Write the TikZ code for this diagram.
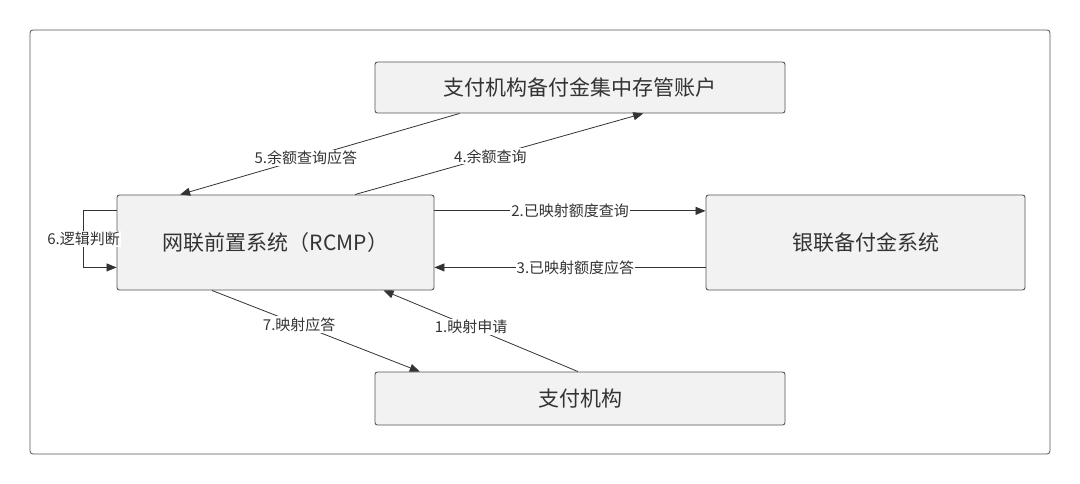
\documentclass[tikz,border=0pt]{standalone}
\usepackage{fontspec}
\usepackage{tikz}
\usetikzlibrary{arrows.meta,calc}
\newfontfamily\cjk{Noto Sans CJK SC}
\definecolor{boxgray}{HTML}{F2F2F2}
\definecolor{linegray}{HTML}{555555}
\definecolor{textgray}{HTML}{333333}

\begin{document}
\begin{tikzpicture}[x=1pt,y=-1pt,
  sysbox/.style={draw=linegray,fill=boxgray,rounded corners=2.5pt,line width=0.9pt,
    font=\cjk\fontsize{21}{25}\selectfont,text=textgray,inner sep=0pt},
  msg/.style={-{Triangle[length=10pt,width=8pt]},draw=textgray,line width=0.8pt},
  lbl/.style={fill=white,inner sep=1pt,font=\cjk\fontsize{15}{17}\selectfont,text=textgray}]
  \useasboundingbox (0,0) rectangle (1080,484);
  \draw[linegray,rounded corners=3pt,line width=0.8pt] (30,30) rectangle (1050,454);
  \node[sysbox,minimum width=410pt,minimum height=51pt] (acct) at (580,87.5) {支付机构备付金集中存管账户};
  \node[sysbox,minimum width=317pt,minimum height=95pt] (rcmp) at (275.5,242.5) {网联前置系统（RCMP）};
  \node[sysbox,minimum width=319pt,minimum height=95pt] (upsys) at (865.5,242.5) {银联备付金系统};
  \node[sysbox,minimum width=410pt,minimum height=53pt] (payorg) at (580,398.5) {支付机构};
  \coordinate (loopout) at ($(rcmp.north west)!0.17!(rcmp.south west)$);
  \coordinate (loopin) at ($(rcmp.north west)!0.76!(rcmp.south west)$);
  \draw[msg] ($(payorg.north west)!0.495!(payorg.north east)$) -- node[lbl,pos=0.55]{1.映射申请} ($(rcmp.south west)!0.84!(rcmp.south east)$);
  \draw[msg] ($(rcmp.north east)!0.17!(rcmp.south east)$) -- node[lbl,pos=0.5]{2.已映射额度查询} ($(upsys.north west)!0.17!(upsys.south west)$);
  \draw[msg] ($(upsys.north west)!0.76!(upsys.south west)$) -- node[lbl,pos=0.48]{3.已映射额度应答} ($(rcmp.north east)!0.76!(rcmp.south east)$);
  \draw[msg] ($(rcmp.north west)!0.75!(rcmp.north east)$) -- node[lbl,pos=0.47]{4.余额查询} ($(acct.south west)!0.654!(acct.south east)$);
  \draw[msg] ($(acct.south west)!0.207!(acct.south east)$) -- node[lbl,pos=0.55]{5.余额查询应答} ($(rcmp.north west)!0.2!(rcmp.north east)$);
  \draw[msg] (loopout) -- ++(-33,0) |- node[lbl,pos=0.25]{6.逻辑判断} (loopin);
  \draw[msg] ($(rcmp.south west)!0.3!(rcmp.south east)$) -- node[lbl,pos=0.42]{7.映射应答} ($(payorg.north west)!0.11!(payorg.north east)$);
\end{tikzpicture}
\end{document}
